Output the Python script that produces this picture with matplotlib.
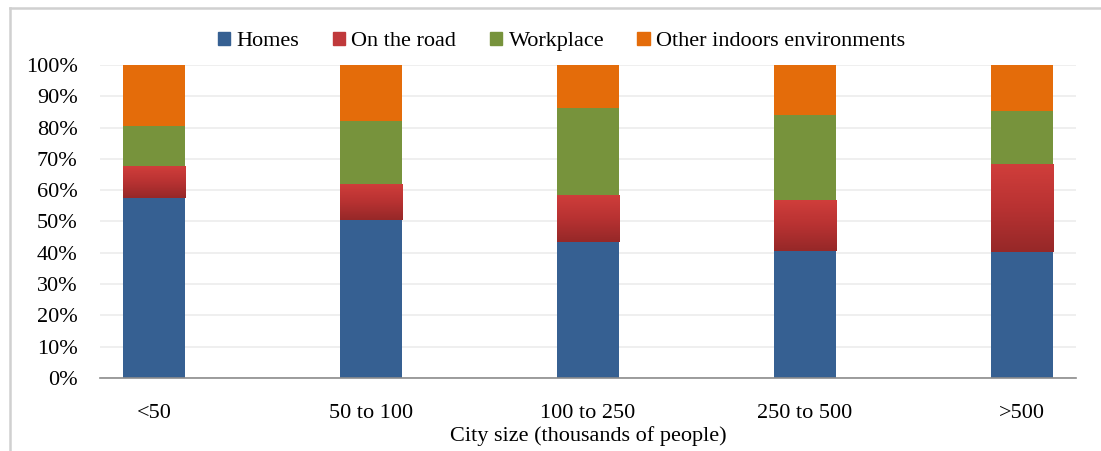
import numpy as np
import matplotlib
matplotlib.use("Agg")
import matplotlib.pyplot as plt
from matplotlib.colors import LinearSegmentedColormap
from matplotlib.lines import Line2D

categories = ["<50", "50 to 100", "100 to 250", "250 to 500", ">500"]
homes = [57.6, 50.5, 43.4, 40.6, 40.4]
on_road = [10.1, 11.6, 15.1, 16.4, 28.1]
workplace = [12.8, 20.0, 27.9, 26.9, 16.8]
other = [19.5, 17.9, 13.6, 16.1, 14.7]

series = [("Homes", homes, "#366092"),
          ("On the road", on_road, "#c0393b"),
          ("Workplace", workplace, "#77933c"),
          ("Other indoors environments", other, "#e46c0a")]

plt.rcParams['font.family'] = ['Liberation Serif', 'DejaVu Serif']
plt.rcParams['font.size'] = 16

fig = plt.figure(figsize=(11.01, 4.51), dpi=100)
ax = fig.add_axes([0.0908, 0.1619, 0.8865, 0.694])

x = np.arange(len(categories))
width = 0.286
red_grad = LinearSegmentedColormap.from_list("redgrad", ["#962828", "#b83232", "#d03e3b"])

bottom = np.zeros(len(categories))
for name, vals, col in series:
    vals = np.array(vals)
    bars = ax.bar(x, vals, width, bottom=bottom, color=col, label=name, zorder=3,
                  linewidth=0)
    if name == "On the road":
        # vertical gradient, dark at the bottom, light at the top
        grad = np.linspace(0, 1, 100).reshape(-1, 1)
        for b in bars:
            x0, y0 = b.get_x(), b.get_y()
            im = ax.imshow(grad, cmap=red_grad, origin="lower", aspect="auto",
                           extent=[x0, x0 + b.get_width(), y0, y0 + b.get_height()],
                           zorder=4)
            im.set_clip_path(b)
    bottom = bottom + vals

ax.set_xlim(-0.25, 4.25)
ax.set_ylim(0, 100)
ax.set_yticks(np.arange(0, 101, 10))
ax.set_yticklabels(["%d%%" % v for v in range(0, 101, 10)])
ax.set_xticks(x)
ax.set_xticklabels(categories)
ax.tick_params(axis="y", length=0, pad=16)
ax.tick_params(axis="x", length=0, pad=19)
ax.grid(axis="y", color="#ececec", linewidth=1.2, zorder=0)
for s in ["top", "right", "left"]:
    ax.spines[s].set_visible(False)
ax.spines["bottom"].set_color("#8c8c8c")
ax.spines["bottom"].set_linewidth(1.2)
ax.spines["bottom"].set_zorder(5)
ax.set_xlabel("City size (thousands of people)", labelpad=2)

handles = [plt.Rectangle((0, 0), 1, 1, color=c) for _, _, c in series]
fig.legend(handles, [n for n, _, _ in series], loc="center", bbox_to_anchor=(0.51, 0.908),
           ncol=4, frameon=False, handlelength=0.55, handleheight=0.55,
           handletextpad=0.3, columnspacing=1.5)

# outer frame (left and top edges visible)
fig.add_artist(Line2D([10 / 1101, 10 / 1101], [0, 1 - 8 / 451], transform=fig.transFigure,
                      color="#d0d0d0", linewidth=1.8))
fig.add_artist(Line2D([10 / 1101, 1], [1 - 8 / 451, 1 - 8 / 451], transform=fig.transFigure,
                      color="#d0d0d0", linewidth=1.8))

fig.savefig("out.png", dpi=100)
